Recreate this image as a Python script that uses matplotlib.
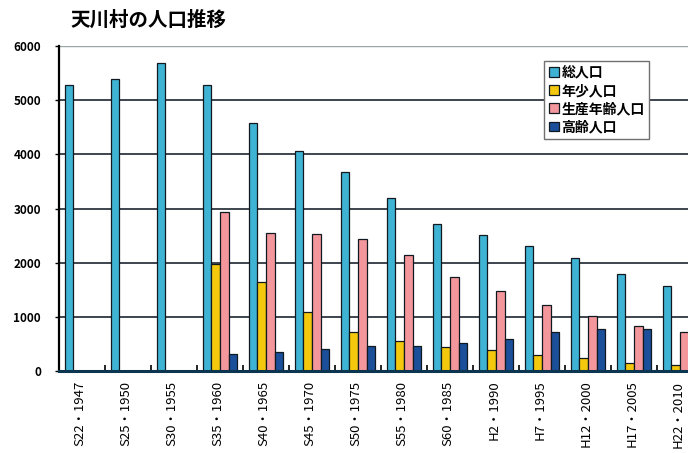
import numpy as np
import matplotlib.pyplot as plt

plt.rcParams['font.family'] = ['Noto Sans CJK JP', 'DejaVu Sans']

# 国勢調査年ごとの人口
years = ['S22・1947', 'S25・1950', 'S30・1955', 'S35・1960', 'S40・1965', 'S45・1970',
         'S50・1975', 'S55・1980', 'S60・1985', 'H2・1990', 'H7・1995', 'H12・2000',
         'H17・2005', 'H22・2010']
total = [5280, 5400, 5690, 5280, 4570, 4060, 3670, 3200, 2720, 2520, 2310, 2090, 1800, 1570]
young = [np.nan, np.nan, np.nan, 1980, 1650, 1090, 720, 560, 450, 390, 300, 240, 150, 110]
working = [np.nan, np.nan, np.nan, 2940, 2540, 2530, 2440, 2150, 1740, 1480, 1220, 1020, 830, 720]
elderly = [np.nan, np.nan, np.nan, 320, 350, 400, 460, 460, 510, 590, 720, 780, 780, 800]

series = [
    ('総人口', total, '#3fb3d3'),
    ('年少人口', young, '#f4c80c'),
    ('生産年齢人口', working, '#f4979c'),
    ('高齢人口', elderly, '#1b4f9a'),
]

fig = plt.figure(figsize=(6.88, 4.53), dpi=100)
ax = fig.add_axes([59 / 688, 82 / 453, 644 / 688, 325 / 453])

x = np.arange(len(years))
bw = 0.185
for k, (name, vals, col) in enumerate(series):
    ax.bar(x + 0.13 + k * bw, vals, width=bw, align='edge', color=col,
           edgecolor='#101820', linewidth=0.9, label=name, zorder=3)

# 横の目盛線
for v in range(1000, 6000, 1000):
    ax.axhline(v, color='#1c2530', lw=1.2, zorder=1)
ax.axhline(6000, color='#9aa6a8', lw=1.0, zorder=1)

ax.set_xlim(0, len(years))
ax.set_ylim(0, 6000)
ax.set_yticks(range(0, 6001, 1000))
ax.tick_params(axis='y', length=3, width=1, pad=10, labelsize=8.5)
for t in ax.get_yticklabels():
    t.set_fontweight('bold')

ax.set_xticks(x + 1, minor=True)
ax.set_xticks(x + 0.45)
ax.set_xticklabels(years, rotation=90, fontsize=9.5)
ax.tick_params(axis='x', which='major', length=0, pad=7)
ax.tick_params(axis='x', which='minor', direction='in', length=4, width=1.2)

for s in ['top', 'right']:
    ax.spines[s].set_visible(False)
ax.spines['left'].set_linewidth(1.6)
ax.spines['bottom'].set_linewidth(2.2)
ax.spines['bottom'].set_color('#0c3550')
ax.spines['bottom'].set_zorder(4)

fig.text(70 / 688, 1 - 20 / 453, '天川村の人口推移', fontsize=14, fontweight='bold',
         va='center', ha='left')

leg = ax.legend(loc='upper left', bbox_to_anchor=(544 / 688, 1 - 61 / 453),
                bbox_transform=fig.transFigure, fancybox=False, framealpha=1,
                edgecolor='#707070', fontsize=10, handlelength=0.7, handleheight=0.7,
                handletextpad=0.2, labelspacing=0.3, borderpad=0.35, borderaxespad=0)
leg.get_frame().set_linewidth(1.0)
leg.set_zorder(5)
for t in leg.get_texts():
    t.set_fontweight('bold')

fig.savefig('out.png', dpi=100)
